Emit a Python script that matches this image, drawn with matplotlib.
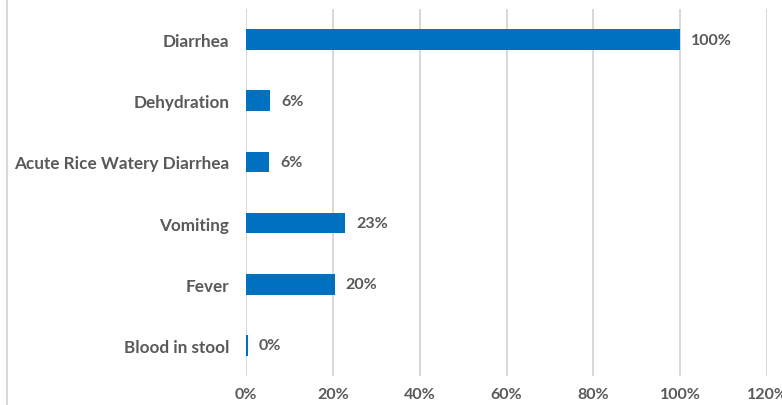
import matplotlib.pyplot as plt
from matplotlib.lines import Line2D

categories = ['Diarrhea', 'Dehydration', 'Acute Rice Watery Diarrhea',
              'Vomiting', 'Fever', 'Blood in stool']
values = [100, 5.5, 5.3, 22.8, 20.4, 0.4]
value_labels = ['100%', '6%', '6%', '23%', '20%', '0%']
x_ticks = [0, 20, 40, 60, 80, 100, 120]

gray = '#595959'
blue = '#0070C0'
plt.rcParams['font.family'] = ['Lato', 'DejaVu Sans']

W, H = 782, 406
figure = plt.figure(figsize=(W / 100, H / 100), dpi=100)
axes = figure.add_axes([246 / W, 29 / H, (767 - 246) / W, (377 - 10) / H])

ypos = list(range(len(categories)))
axes.barh(ypos, values, height=0.34, color=blue, zorder=3)
for y, v, lab in zip(ypos, values, value_labels):
    axes.annotate(lab, (v, y), xytext=(8, 0), textcoords='offset points',
                  va='center', ha='left', fontsize=11.5, fontweight='bold', color=gray)

axes.set_ylim(len(categories) - 0.5, -0.5)
axes.set_xlim(0, 120)
axes.set_yticks(ypos)
axes.set_yticklabels(categories, fontsize=12.3, fontweight='bold', color=gray)
axes.set_xticks(x_ticks)
axes.set_xticklabels([f'{t}%' for t in x_ticks], fontsize=11.5, fontweight='bold', color=gray)
axes.tick_params(axis='both', length=0)
axes.tick_params(axis='y', pad=12)
axes.tick_params(axis='x', pad=8)
axes.grid(axis='x', color='#D9D9D9', linewidth=1.5, zorder=0)
for s in axes.spines.values():
    s.set_visible(False)

figure.add_artist(Line2D([6.5 / W, 6.5 / W], [0, 1], color='#D9D9D9', linewidth=1.5))

figure.savefig('out.png', dpi=100)
